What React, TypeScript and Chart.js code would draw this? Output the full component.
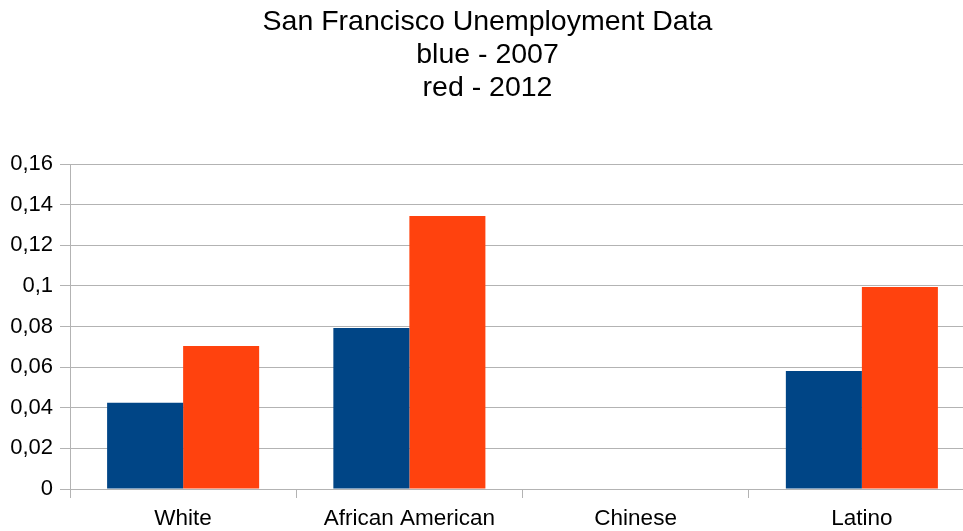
import React, { useEffect, useRef } from "react";
import { Chart, registerables } from "chart.js";

Chart.register(...registerables);

const categories = ["White", "African American", "Chinese", "Latino"];
const values2007: (number | null)[] = [0.0425, 0.0793, null, 0.0581];
const values2012: (number | null)[] = [0.0704, 0.1344, null, 0.0994];
const yTickLabels = ["0", "0,02", "0,04", "0,06", "0,08", "0,1", "0,12", "0,14", "0,16"];
const titleLines = ["San Francisco Unemployment Data", "blue - 2007", "red - 2012"];

const FONT = "'Liberation Sans', Arial, sans-serif";

export default function App() {
  const ref = useRef<HTMLCanvasElement | null>(null);

  useEffect(() => {
    if (!ref.current) return;
    const chart = new Chart(ref.current, {
      type: "bar",
      data: {
        labels: categories,
        datasets: [
          {
            label: "2007",
            data: values2007,
            backgroundColor: "#004586",
            categoryPercentage: 0.672,
            barPercentage: 1.0,
          },
          {
            label: "2012",
            data: values2012,
            backgroundColor: "#ff420e",
            categoryPercentage: 0.672,
            barPercentage: 1.0,
          },
        ],
      },
      options: {
        animation: false,
        responsive: false,
        layout: { padding: { left: 0, right: 1, top: 0, bottom: 0 } },
        plugins: {
          legend: { display: false },
          tooltip: { enabled: false },
          title: {
            display: true,
            text: titleLines,
            color: "#000",
            font: { family: FONT, size: 28.5, weight: "normal", lineHeight: 1.158 },
            padding: { top: 6, bottom: 59 },
          },
        },
        scales: {
          x: {
            grid: {
              display: true,
              offset: true,
              drawOnChartArea: false,
              drawTicks: true,
              tickLength: 9,
              color: "#b3b3b3",
            },
            border: { display: true, color: "#b3b3b3" },
            ticks: {
              color: "#000",
              font: { family: FONT, size: 22.5 },
              padding: 7,
              maxRotation: 0,
              autoSkip: false,
            },
            afterFit: (scale: any) => {
              scale.height = 42;
            },
          },
          y: {
            min: 0,
            max: 0.16,
            ticks: {
              stepSize: 0.02,
              color: "#000",
              font: { family: FONT, size: 22 },
              padding: 7,
              callback: (_v: any, i: number) => yTickLabels[i],
            },
            grid: {
              color: "#b3b3b3",
              tickLength: 10,
              drawTicks: true,
            },
            border: { display: true, color: "#b3b3b3" },
            afterFit: (scale: any) => {
              scale.width = 70;
            },
          },
        },
      },
    });
    return () => chart.destroy();
  }, []);

  return (
    <div
      style={{
        position: "fixed",
        left: 0,
        top: 0,
        width: 963,
        height: 531,
        overflow: "hidden",
        background: "#fff",
      }}
    >
      <canvas ref={ref} width={976} height={531} style={{ display: "block" }} />
    </div>
  );
}
